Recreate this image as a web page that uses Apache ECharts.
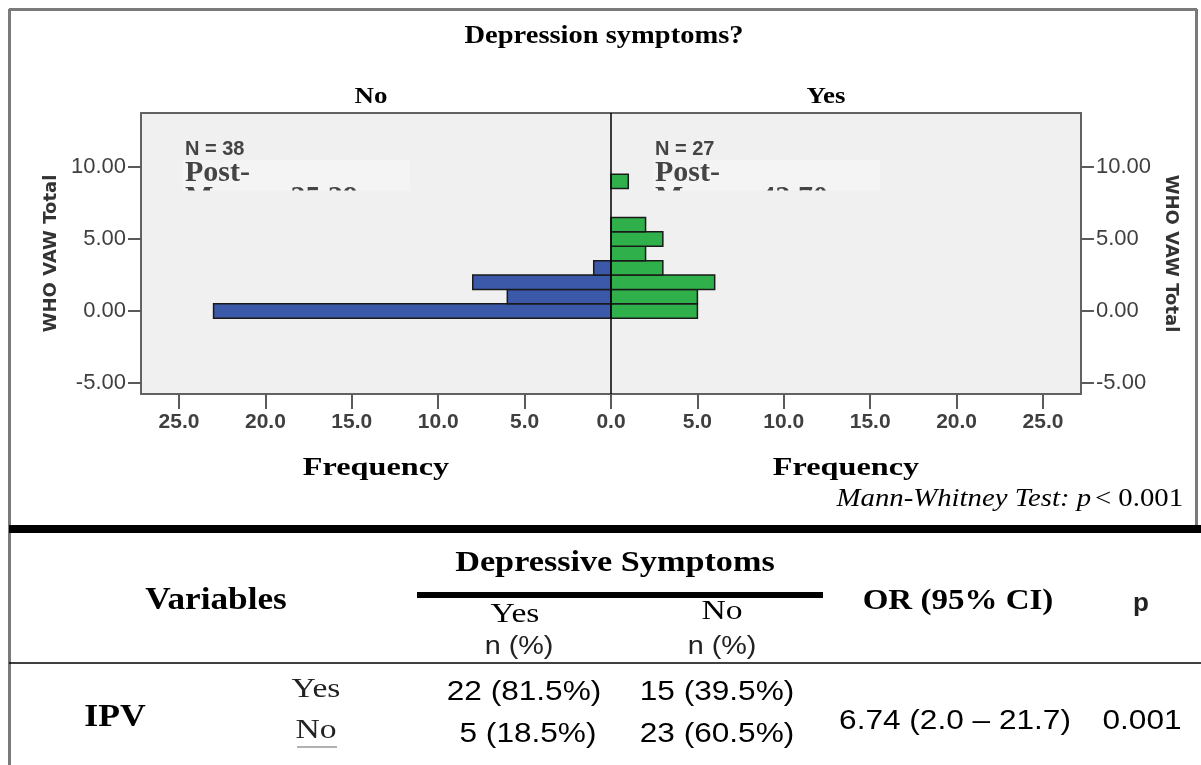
<!DOCTYPE html>
<html><head><meta charset="utf-8">
<script src="https://cdn.jsdelivr.net/npm/echarts@6/dist/echarts.min.js"></script>
<style>html,body{margin:0;padding:0;background:#fff}#main{width:1201px;height:765px}</style>
</head><body><div id="main"></div>
<script>
// ---- data ----
const vawNo = [0, 1, 2, 3];
const freqNo = [23, 6, 8, 1];
const vawYes = [0, 1, 2, 3, 4, 5, 6, 9];
const freqYes = [5, 5, 6, 3, 2, 3, 2, 1];
const yTickValues = [-5, 0, 5, 10];
const xTickValues = [-25, -20, -15, -10, -5, 0, 5, 10, 15, 20, 25];
const groupLabels = ['No', 'Yes'];
const groupN = [38, 27];
const meanRanks = ['25.39', '43.70'];
const tableCols = ['Variables', 'Depressive Symptoms', 'Yes', 'No', 'n (%)', 'OR (95% CI)', 'p'];
const ipvRowLabels = ['Yes', 'No'];
const ipvYesDep = ['22 (81.5%)', '5 (18.5%)'];
const ipvNoDep = ['15 (39.5%)', '23 (60.5%)'];
const orText = '6.74 (2.0 \u2013 21.7)';
const pText = '0.001';

const SERIF = '"Liberation Serif", "Times New Roman", serif';
const SANS = '"Liberation Sans", Arial, sans-serif';

const chart = echarts.init(document.getElementById('main'), null, {renderer: 'canvas'});

function barRenderer(color) {
  return function (params, api) {
    const v = api.value(0), f = api.value(1);
    const a = api.coord([0, v + 0.5]);
    const b = api.coord([f, v - 0.5]);
    return {
      type: 'rect',
      shape: {x: Math.min(a[0], b[0]), y: a[1], width: Math.abs(b[0] - a[0]), height: b[1] - a[1]},
      style: {fill: color, stroke: '#1a1a1a', lineWidth: 1.5}
    };
  };
}

// text helper: size, optional horizontal stretch sx
function T(text, x, y, font, size, sx, style) {
  return {
    type: 'text', x: x, y: y, z: 20, scaleX: sx || 1,
    style: Object.assign({text: text, fontFamily: font, fontSize: size, fill: '#000',
      align: 'center', verticalAlign: 'middle'}, style || {})
  };
}
function L(x1, y1, x2, y2, w, c) {
  return {type: 'line', z: 20, shape: {x1, y1, x2, y2}, style: {stroke: c, lineWidth: w}};
}
const B = {fontWeight: 'bold'};
const NLAB = {fontWeight: 'bold', fill: '#444', align: 'left'};

const graphics = [
  // frame
  L(9, 9.5, 1197, 9.5, 3, '#7a7a7a'),
  L(9.5, 9, 9.5, 765, 3, '#7a7a7a'),
  L(1196.5, 9, 1196.5, 527, 3, '#7a7a7a'),
  L(9, 529, 1201, 529, 8, '#000'),
  // headings
  T('Depression symptoms?', 604, 37, SERIF, 25, 1.14, B),
  T(groupLabels[0], 371, 97, SERIF, 23, 1.17, B),
  T(groupLabels[1], 826, 97, SERIF, 23, 1.17, B),
  // label boxes inside plot
  {type: 'rect', z: 19, shape: {x: 183, y: 160, width: 227, height: 31}, style: {fill: '#f4f4f4'}},
  {type: 'rect', z: 19, shape: {x: 653, y: 160, width: 227, height: 31}, style: {fill: '#f4f4f4'}},
  T('N = ' + groupN[0], 185, 149, SANS, 20, 1, NLAB),
  T('N = ' + groupN[1], 655, 149, SANS, 20, 1, NLAB),
  T('Post-', 185, 173, SERIF, 30, 1, NLAB),
  T('Post-', 655, 173, SERIF, 30, 1, NLAB),
  T('Mean = ' + meanRanks[0], 185, 198, SERIF, 30, 1, NLAB),
  T('Mean = ' + meanRanks[1], 655, 198, SERIF, 30, 1, NLAB),
  {type: 'rect', z: 21, shape: {x: 180, y: 190.5, width: 240, height: 24}, style: {fill: '#f0f0f0'}},
  {type: 'rect', z: 21, shape: {x: 650, y: 190.5, width: 240, height: 24}, style: {fill: '#f0f0f0'}},
  // Frequency labels
  T('Frequency', 376, 469, SERIF, 25, 1.29, B),
  T('Frequency', 846, 469, SERIF, 25, 1.29, B),
  {type: 'text', z: 20, x: 1183, y: 499, scaleX: 1.15, style: {
    text: '{i|Mann-Whitney Test: p} {r|< 0.001}', align: 'right', verticalAlign: 'middle',
    rich: {i: {fontFamily: SERIF, fontStyle: 'italic', fontSize: 25, fill: '#000'},
           r: {fontFamily: SERIF, fontSize: 25, fill: '#000'}}}},
  // table header
  T(tableCols[0], 216, 601, SERIF, 32, 1.1, B),
  T(tableCols[1], 615, 563, SERIF, 30, 1.14, B),
  L(417, 595, 823, 595, 6, '#000'),
  T(tableCols[2], 515, 615, SERIF, 28, 1.2),
  T(tableCols[3], 722, 612, SERIF, 28, 1.2),
  T(tableCols[4], 519, 647, SANS, 25, 1.15, {fill: '#222'}),
  T(tableCols[4], 722, 647, SANS, 25, 1.15, {fill: '#222'}),
  T(tableCols[5], 958, 601, SERIF, 30, 1.1, B),
  T(tableCols[6], 1141, 604, SANS, 26, 1, {fontWeight: 'bold', fill: '#222'}),
  L(9, 663, 1201, 663, 1.5, '#000'),
  // table body
  T('IPV', 115, 718, SERIF, 31, 1.15, B),
  T(ipvRowLabels[0], 316, 690, SERIF, 28, 1.2, {fill: '#222'}),
  T(ipvRowLabels[1], 316, 731, SERIF, 28, 1.2, {fill: '#222'}),
  L(297, 747, 337, 747, 1.2, '#666'),
  T(ipvYesDep[0], 524, 693, SANS, 27, 1.17),
  T(ipvYesDep[1], 528, 735, SANS, 27, 1.17),
  T(ipvNoDep[0], 717, 693, SANS, 27, 1.17),
  T(ipvNoDep[1], 717, 735, SANS, 27, 1.17),
  T(orText, 955, 722, SANS, 27, 1.17),
  T(pText, 1142, 722, SANS, 27, 1.17)
];

const axisLine = {show: false, onZero: false};
const yCommon = {
  type: 'value', min: -5.76, max: 13.75,
  axisLine: axisLine, splitLine: {show: false},
  axisTick: {customValues: yTickValues, show: true, inside: false, length: 13, lineStyle: {color: '#5a5a5a', width: 2}},
  axisLabel: {customValues: yTickValues, margin: 15, color: '#3f3f3f', fontFamily: SANS, fontSize: 22,
    formatter: v => v.toFixed(2)},
  name: 'WHO VAW Total', nameLocation: 'middle',
  nameTextStyle: {fontFamily: '"DejaVu Sans", sans-serif', fontWeight: 'bold', fontSize: 18, color: '#333'}
};

const option = {
  animation: false,
  backgroundColor: '#fff',
  grid: {left: 141, right: 120, top: 113, bottom: 371, show: true,
    backgroundColor: '#f0f0f0', borderColor: '#626262', borderWidth: 2, outerBoundsMode: 'none'},
  xAxis: {
    type: 'value', min: -27.2, max: 27.2,
    axisLine: axisLine, splitLine: {show: false},
    axisTick: {customValues: xTickValues, show: true, inside: false, length: 15, lineStyle: {color: '#5a5a5a', width: 2}},
    axisLabel: {customValues: xTickValues, margin: 18, color: '#3f3f3f', fontFamily: SANS, fontWeight: 'bold', fontSize: 21,
      formatter: v => Math.abs(v).toFixed(1)}
  },
  yAxis: [
    Object.assign({}, yCommon, {position: 'left', nameRotate: 90, nameGap: 79}),
    Object.assign({}, yCommon, {position: 'right', nameRotate: -90, nameGap: 79})
  ],
  series: [
    {type: 'custom', name: 'No', renderItem: barRenderer('#3b58a9'), clip: true,
      encode: {x: 1, y: 0},
      data: vawNo.map((v, i) => [v, -freqNo[i]]),
      markLine: {silent: true, symbol: 'none', label: {show: false},
        lineStyle: {color: '#000', width: 1.5, type: 'solid'}, data: [{xAxis: 0}]}},
    {type: 'custom', name: 'Yes', renderItem: barRenderer('#2fb04a'), clip: true,
      encode: {x: 1, y: 0},
      data: vawYes.map((v, i) => [v, freqYes[i]])}
  ],
  graphic: graphics
};
chart.setOption(option);
</script></body></html>
